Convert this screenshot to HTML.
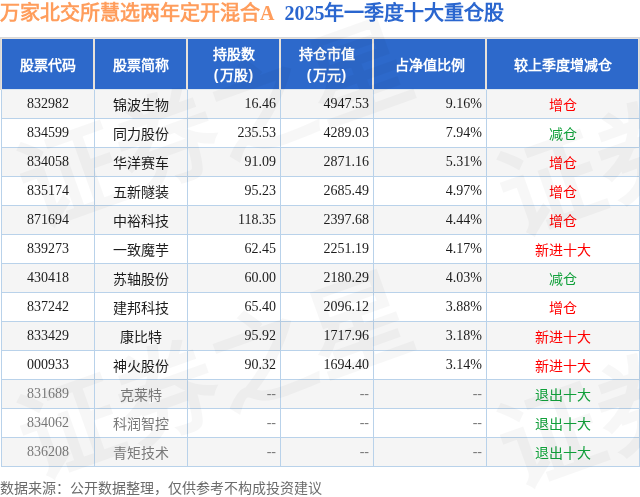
<!DOCTYPE html>
<html lang="zh-CN"><head><meta charset="utf-8"><title>十大重仓股</title>
<style>
html,body{margin:0;padding:0;background:#fff;width:640px;height:497px;overflow:hidden;}
#pg{will-change:transform;width:640px;height:497px;position:relative;overflow:hidden;background:#fff;font-family:"Liberation Sans",sans-serif;}
.title{position:absolute;left:0px;top:-1px;height:28px;line-height:28px;font-size:20px;font-weight:bold;white-space:nowrap;font-family:"Liberation Serif","Liberation Sans",sans-serif;}
.title .a{color:#ff9d5c;}
.title .b{color:#2a66cf;margin-left:10px;}
.hd{position:absolute;left:0;top:37px;width:640px;height:53px;background:#e8e2da;box-sizing:border-box;border:1px solid #d9d9d9;border-bottom:none;}
.hl{position:absolute;left:2px;top:89px;width:636px;height:1px;background:#dbe7f1;}
.th{position:absolute;top:1px;height:50px;background:#2d69cb;color:#fff;font-weight:bold;font-size:14px;text-align:center;display:flex;align-items:center;justify-content:center;line-height:21px;padding-top:2px;box-sizing:border-box;}
.th i{font-style:normal;margin:0 1px;}
.row{position:absolute;left:1px;width:639px;height:28px;border-bottom:1px solid #b9d2ea;}
.row.o{background:#f5f5f5;}
.c{position:absolute;top:0;height:28px;line-height:28px;font-size:14px;color:#1c1c1c;white-space:nowrap;}
.n{font-family:"Liberation Serif",serif;font-size:14px;}
.c.z{top:1px;font-weight:500;}
.vl{position:absolute;top:90px;width:1px;height:377px;background:#b9d2ea;}
.r{color:#f00;}.g{color:#10a03a;}
.dim .c{color:#7a7a7a;}
.dim .c.g{color:#10a03a;}
.foot{position:absolute;left:0;top:477px;height:22px;line-height:22px;font-size:14px;color:#6b6b6b;white-space:nowrap;}
.wm{position:absolute;font-size:102px;line-height:120px;height:120px;color:rgba(0,0,0,0.033);font-weight:bold;transform:rotate(-19.7deg);transform-origin:51px 60px;white-space:nowrap;pointer-events:none;}
</style></head><body><div id="pg">
<div class="title"><span class="a">万家北交所慧选两年定开混合A</span><span class="b">2025年一季度十大重仓股</span></div>
<div class="hd">
<div class="th" style="left:1px;width:91px"><span>股票代码</span></div><div class="th" style="left:94px;width:91px"><span>股票简称</span></div><div class="th" style="left:187px;width:91px"><span>持股数<br><i>(</i>万股<i>)</i></span></div><div class="th" style="left:280px;width:91px"><span>持仓市值<br><i>(</i>万元<i>)</i></span></div><div class="th" style="left:373px;width:111px"><span>占净值比例</span></div><div class="th" style="left:486px;width:151px"><span>较上季度增减仓</span></div></div>
<div class="hl"></div>
<div class="row o" style="top:90px"><div class="c n" style="left:1px;width:92px;text-align:center">832982</div><div class="c z" style="left:94px;width:92px;text-align:center">锦波生物</div><div class="c n" style="left:187px;width:88px;text-align:right">16.46</div><div class="c n" style="left:280px;width:88px;text-align:right">4947.53</div><div class="c n" style="left:373px;width:108px;text-align:right">9.16%</div><div class="c z r" style="left:486px;width:152px;text-align:center">增仓</div></div>
<div class="row" style="top:119px"><div class="c n" style="left:1px;width:92px;text-align:center">834599</div><div class="c z" style="left:94px;width:92px;text-align:center">同力股份</div><div class="c n" style="left:187px;width:88px;text-align:right">235.53</div><div class="c n" style="left:280px;width:88px;text-align:right">4289.03</div><div class="c n" style="left:373px;width:108px;text-align:right">7.94%</div><div class="c z g" style="left:486px;width:152px;text-align:center">减仓</div></div>
<div class="row o" style="top:148px"><div class="c n" style="left:1px;width:92px;text-align:center">834058</div><div class="c z" style="left:94px;width:92px;text-align:center">华洋赛车</div><div class="c n" style="left:187px;width:88px;text-align:right">91.09</div><div class="c n" style="left:280px;width:88px;text-align:right">2871.16</div><div class="c n" style="left:373px;width:108px;text-align:right">5.31%</div><div class="c z r" style="left:486px;width:152px;text-align:center">增仓</div></div>
<div class="row" style="top:177px"><div class="c n" style="left:1px;width:92px;text-align:center">835174</div><div class="c z" style="left:94px;width:92px;text-align:center">五新隧装</div><div class="c n" style="left:187px;width:88px;text-align:right">95.23</div><div class="c n" style="left:280px;width:88px;text-align:right">2685.49</div><div class="c n" style="left:373px;width:108px;text-align:right">4.97%</div><div class="c z r" style="left:486px;width:152px;text-align:center">增仓</div></div>
<div class="row o" style="top:206px"><div class="c n" style="left:1px;width:92px;text-align:center">871694</div><div class="c z" style="left:94px;width:92px;text-align:center">中裕科技</div><div class="c n" style="left:187px;width:88px;text-align:right">118.35</div><div class="c n" style="left:280px;width:88px;text-align:right">2397.68</div><div class="c n" style="left:373px;width:108px;text-align:right">4.44%</div><div class="c z r" style="left:486px;width:152px;text-align:center">增仓</div></div>
<div class="row" style="top:235px"><div class="c n" style="left:1px;width:92px;text-align:center">839273</div><div class="c z" style="left:94px;width:92px;text-align:center">一致魔芋</div><div class="c n" style="left:187px;width:88px;text-align:right">62.45</div><div class="c n" style="left:280px;width:88px;text-align:right">2251.19</div><div class="c n" style="left:373px;width:108px;text-align:right">4.17%</div><div class="c z r" style="left:486px;width:152px;text-align:center">新进十大</div></div>
<div class="row o" style="top:264px"><div class="c n" style="left:1px;width:92px;text-align:center">430418</div><div class="c z" style="left:94px;width:92px;text-align:center">苏轴股份</div><div class="c n" style="left:187px;width:88px;text-align:right">60.00</div><div class="c n" style="left:280px;width:88px;text-align:right">2180.29</div><div class="c n" style="left:373px;width:108px;text-align:right">4.03%</div><div class="c z g" style="left:486px;width:152px;text-align:center">减仓</div></div>
<div class="row" style="top:293px"><div class="c n" style="left:1px;width:92px;text-align:center">837242</div><div class="c z" style="left:94px;width:92px;text-align:center">建邦科技</div><div class="c n" style="left:187px;width:88px;text-align:right">65.40</div><div class="c n" style="left:280px;width:88px;text-align:right">2096.12</div><div class="c n" style="left:373px;width:108px;text-align:right">3.88%</div><div class="c z r" style="left:486px;width:152px;text-align:center">增仓</div></div>
<div class="row o" style="top:322px"><div class="c n" style="left:1px;width:92px;text-align:center">833429</div><div class="c z" style="left:94px;width:92px;text-align:center">康比特</div><div class="c n" style="left:187px;width:88px;text-align:right">95.92</div><div class="c n" style="left:280px;width:88px;text-align:right">1717.96</div><div class="c n" style="left:373px;width:108px;text-align:right">3.18%</div><div class="c z r" style="left:486px;width:152px;text-align:center">新进十大</div></div>
<div class="row" style="top:351px"><div class="c n" style="left:1px;width:92px;text-align:center">000933</div><div class="c z" style="left:94px;width:92px;text-align:center">神火股份</div><div class="c n" style="left:187px;width:88px;text-align:right">90.32</div><div class="c n" style="left:280px;width:88px;text-align:right">1694.40</div><div class="c n" style="left:373px;width:108px;text-align:right">3.14%</div><div class="c z r" style="left:486px;width:152px;text-align:center">新进十大</div></div>
<div class="row o dim" style="top:380px"><div class="c n" style="left:1px;width:92px;text-align:center">831689</div><div class="c z" style="left:94px;width:92px;text-align:center">克莱特</div><div class="c n" style="left:187px;width:88px;text-align:right">--</div><div class="c n" style="left:280px;width:88px;text-align:right">--</div><div class="c n" style="left:373px;width:108px;text-align:right">--</div><div class="c z g" style="left:486px;width:152px;text-align:center">退出十大</div></div>
<div class="row dim" style="top:409px"><div class="c n" style="left:1px;width:92px;text-align:center">834062</div><div class="c z" style="left:94px;width:92px;text-align:center">科润智控</div><div class="c n" style="left:187px;width:88px;text-align:right">--</div><div class="c n" style="left:280px;width:88px;text-align:right">--</div><div class="c n" style="left:373px;width:108px;text-align:right">--</div><div class="c z g" style="left:486px;width:152px;text-align:center">退出十大</div></div>
<div class="row o dim" style="top:438px"><div class="c n" style="left:1px;width:92px;text-align:center">836208</div><div class="c z" style="left:94px;width:92px;text-align:center">青矩技术</div><div class="c n" style="left:187px;width:88px;text-align:right">--</div><div class="c n" style="left:280px;width:88px;text-align:right">--</div><div class="c n" style="left:373px;width:108px;text-align:right">--</div><div class="c z g" style="left:486px;width:152px;text-align:center">退出十大</div></div>
<div class="vl" style="left:1px"></div><div class="vl" style="left:94px"></div><div class="vl" style="left:187px"></div><div class="vl" style="left:280px"></div><div class="vl" style="left:373px"></div><div class="vl" style="left:486px"></div><div class="vl" style="left:639px"></div><div class="wm" style="left:20px;top:117px">证券之星</div><div class="wm" style="left:20px;top:369px">证券之星</div><div class="wm" style="left:500px;top:126px">证券之星</div><div class="wm" style="left:500px;top:378px">证券之星</div><div class="wm" style="left:20px;top:-135px">证券之星</div><div class="wm" style="left:500px;top:-126px">证券之星</div>
<div class="foot">数据来源：公开数据整理，仅供参考不构成投资建议</div>
</div></body></html>
